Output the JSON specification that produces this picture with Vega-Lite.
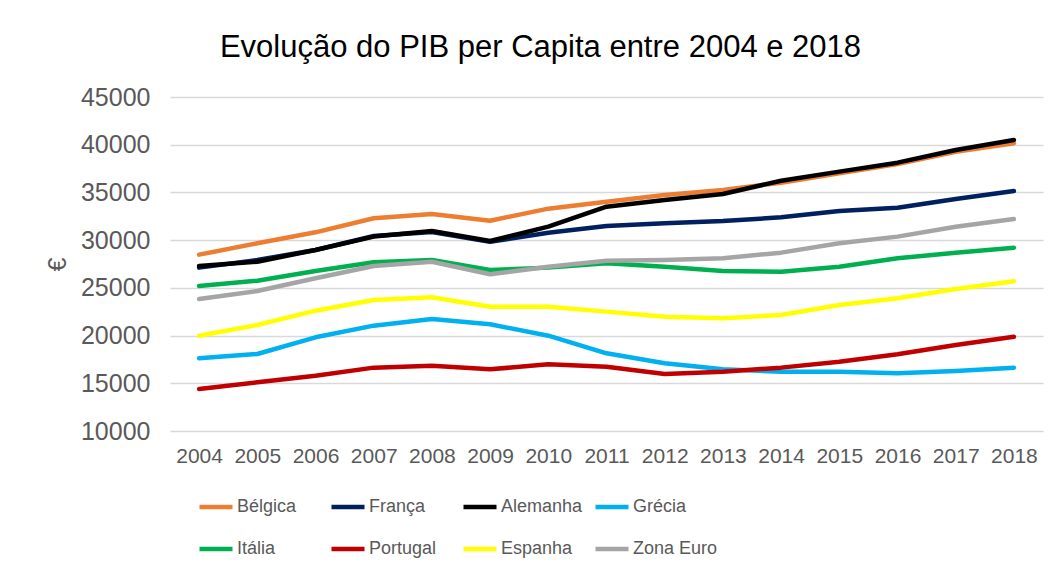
{
  "$schema": "https://vega.github.io/schema/vega-lite/v6.json",
  "width": 873,
  "height": 334,
  "autosize": {"type": "none"},
  "padding": {"left": 170, "top": 97, "right": 14, "bottom": 143},
  "background": "white",
  "title": {
    "text": "Evolução do PIB per Capita entre 2004 e 2018",
    "font": "Liberation Sans",
    "fontSize": 31,
    "fontWeight": "normal",
    "color": "#000000",
    "anchor": "middle",
    "frame": "group",
    "dx": -66,
    "baseline": "alphabetic",
    "offset": -3
  },
  "config": {
    "view": {"stroke": null},
    "font": "Liberation Sans"
  },
  "data": {
    "values": [
      {"ano": "2004", "pais": "Bélgica", "pib": 28480},
      {"ano": "2005", "pais": "Bélgica", "pib": 29670},
      {"ano": "2006", "pais": "Bélgica", "pib": 30820},
      {"ano": "2007", "pais": "Bélgica", "pib": 32290},
      {"ano": "2008", "pais": "Bélgica", "pib": 32740},
      {"ano": "2009", "pais": "Bélgica", "pib": 32040},
      {"ano": "2010", "pais": "Bélgica", "pib": 33300},
      {"ano": "2011", "pais": "Bélgica", "pib": 34030},
      {"ano": "2012", "pais": "Bélgica", "pib": 34730},
      {"ano": "2013", "pais": "Bélgica", "pib": 35260},
      {"ano": "2014", "pais": "Bélgica", "pib": 36020},
      {"ano": "2015", "pais": "Bélgica", "pib": 37000},
      {"ano": "2016", "pais": "Bélgica", "pib": 37980},
      {"ano": "2017", "pais": "Bélgica", "pib": 39270},
      {"ano": "2018", "pais": "Bélgica", "pib": 40150},
      {"ano": "2004", "pais": "França", "pib": 27120},
      {"ano": "2005", "pais": "França", "pib": 27920},
      {"ano": "2006", "pais": "França", "pib": 28970},
      {"ano": "2007", "pais": "França", "pib": 30440},
      {"ano": "2008", "pais": "França", "pib": 30860},
      {"ano": "2009", "pais": "França", "pib": 29840},
      {"ano": "2010", "pais": "França", "pib": 30780},
      {"ano": "2011", "pais": "França", "pib": 31480},
      {"ano": "2012", "pais": "França", "pib": 31770},
      {"ano": "2013", "pais": "França", "pib": 32010},
      {"ano": "2014", "pais": "França", "pib": 32390},
      {"ano": "2015", "pais": "França", "pib": 33060},
      {"ano": "2016", "pais": "França", "pib": 33400},
      {"ano": "2017", "pais": "França", "pib": 34310},
      {"ano": "2018", "pais": "França", "pib": 35150},
      {"ano": "2004", "pais": "Alemanha", "pib": 27290},
      {"ano": "2005", "pais": "Alemanha", "pib": 27740},
      {"ano": "2006", "pais": "Alemanha", "pib": 28970},
      {"ano": "2007", "pais": "Alemanha", "pib": 30370},
      {"ano": "2008", "pais": "Alemanha", "pib": 30960},
      {"ano": "2009", "pais": "Alemanha", "pib": 29910},
      {"ano": "2010", "pais": "Alemanha", "pib": 31410},
      {"ano": "2011", "pais": "Alemanha", "pib": 33510},
      {"ano": "2012", "pais": "Alemanha", "pib": 34210},
      {"ano": "2013", "pais": "Alemanha", "pib": 34840},
      {"ano": "2014", "pais": "Alemanha", "pib": 36230},
      {"ano": "2015", "pais": "Alemanha", "pib": 37180},
      {"ano": "2016", "pais": "Alemanha", "pib": 38120},
      {"ano": "2017", "pais": "Alemanha", "pib": 39450},
      {"ano": "2018", "pais": "Alemanha", "pib": 40500},
      {"ano": "2004", "pais": "Grécia", "pib": 17620},
      {"ano": "2005", "pais": "Grécia", "pib": 18070},
      {"ano": "2006", "pais": "Grécia", "pib": 19820},
      {"ano": "2007", "pais": "Grécia", "pib": 21040},
      {"ano": "2008", "pais": "Grécia", "pib": 21740},
      {"ano": "2009", "pais": "Grécia", "pib": 21180},
      {"ano": "2010", "pais": "Grécia", "pib": 19990},
      {"ano": "2011", "pais": "Grécia", "pib": 18140},
      {"ano": "2012", "pais": "Grécia", "pib": 17090},
      {"ano": "2013", "pais": "Grécia", "pib": 16460},
      {"ano": "2014", "pais": "Grécia", "pib": 16220},
      {"ano": "2015", "pais": "Grécia", "pib": 16220},
      {"ano": "2016", "pais": "Grécia", "pib": 16040},
      {"ano": "2017", "pais": "Grécia", "pib": 16300},
      {"ano": "2018", "pais": "Grécia", "pib": 16640},
      {"ano": "2004", "pais": "Itália", "pib": 25200},
      {"ano": "2005", "pais": "Itália", "pib": 25750},
      {"ano": "2006", "pais": "Itália", "pib": 26770},
      {"ano": "2007", "pais": "Itália", "pib": 27680},
      {"ano": "2008", "pais": "Itália", "pib": 27920},
      {"ano": "2009", "pais": "Itália", "pib": 26870},
      {"ano": "2010", "pais": "Itália", "pib": 27120},
      {"ano": "2011", "pais": "Itália", "pib": 27570},
      {"ano": "2012", "pais": "Itália", "pib": 27220},
      {"ano": "2013", "pais": "Itália", "pib": 26770},
      {"ano": "2014", "pais": "Itália", "pib": 26700},
      {"ano": "2015", "pais": "Itália", "pib": 27220},
      {"ano": "2016", "pais": "Itália", "pib": 28100},
      {"ano": "2017", "pais": "Itália", "pib": 28690},
      {"ano": "2018", "pais": "Itália", "pib": 29210},
      {"ano": "2004", "pais": "Portugal", "pib": 14400},
      {"ano": "2005", "pais": "Portugal", "pib": 15100},
      {"ano": "2006", "pais": "Portugal", "pib": 15800},
      {"ano": "2007", "pais": "Portugal", "pib": 16640},
      {"ano": "2008", "pais": "Portugal", "pib": 16850},
      {"ano": "2009", "pais": "Portugal", "pib": 16460},
      {"ano": "2010", "pais": "Portugal", "pib": 16990},
      {"ano": "2011", "pais": "Portugal", "pib": 16740},
      {"ano": "2012", "pais": "Portugal", "pib": 15970},
      {"ano": "2013", "pais": "Portugal", "pib": 16220},
      {"ano": "2014", "pais": "Portugal", "pib": 16640},
      {"ano": "2015", "pais": "Portugal", "pib": 17260},
      {"ano": "2016", "pais": "Portugal", "pib": 18040},
      {"ano": "2017", "pais": "Portugal", "pib": 19010},
      {"ano": "2018", "pais": "Portugal", "pib": 19880},
      {"ano": "2004", "pais": "Espanha", "pib": 19990},
      {"ano": "2005", "pais": "Espanha", "pib": 21110},
      {"ano": "2006", "pais": "Espanha", "pib": 22610},
      {"ano": "2007", "pais": "Espanha", "pib": 23730},
      {"ano": "2008", "pais": "Espanha", "pib": 24010},
      {"ano": "2009", "pais": "Espanha", "pib": 23030},
      {"ano": "2010", "pais": "Espanha", "pib": 23030},
      {"ano": "2011", "pais": "Espanha", "pib": 22510},
      {"ano": "2012", "pais": "Espanha", "pib": 21980},
      {"ano": "2013", "pais": "Espanha", "pib": 21810},
      {"ano": "2014", "pais": "Espanha", "pib": 22160},
      {"ano": "2015", "pais": "Espanha", "pib": 23200},
      {"ano": "2016", "pais": "Espanha", "pib": 23910},
      {"ano": "2017", "pais": "Espanha", "pib": 24880},
      {"ano": "2018", "pais": "Espanha", "pib": 25690},
      {"ano": "2004", "pais": "Zona Euro", "pib": 23830},
      {"ano": "2005", "pais": "Zona Euro", "pib": 24670},
      {"ano": "2006", "pais": "Zona Euro", "pib": 26000},
      {"ano": "2007", "pais": "Zona Euro", "pib": 27290},
      {"ano": "2008", "pais": "Zona Euro", "pib": 27740},
      {"ano": "2009", "pais": "Zona Euro", "pib": 26420},
      {"ano": "2010", "pais": "Zona Euro", "pib": 27220},
      {"ano": "2011", "pais": "Zona Euro", "pib": 27850},
      {"ano": "2012", "pais": "Zona Euro", "pib": 27920},
      {"ano": "2013", "pais": "Zona Euro", "pib": 28100},
      {"ano": "2014", "pais": "Zona Euro", "pib": 28690},
      {"ano": "2015", "pais": "Zona Euro", "pib": 29670},
      {"ano": "2016", "pais": "Zona Euro", "pib": 30370},
      {"ano": "2017", "pais": "Zona Euro", "pib": 31410},
      {"ano": "2018", "pais": "Zona Euro", "pib": 32220}
    ]
  },
  "mark": {"type": "line", "strokeWidth": 4.5, "strokeCap": "round", "strokeJoin": "round"},
  "encoding": {
    "x": {
      "field": "ano",
      "type": "ordinal",
      "axis": {
        "title": null,
        "labelAngle": 0,
        "labelFont": "Liberation Sans",
        "labelFontSize": 21,
        "labelColor": "#595959",
        "labelPadding": 14,
        "ticks": false,
        "domain": false,
        "grid": false
      }
    },
    "y": {
      "field": "pib",
      "type": "quantitative",
      "scale": {"domain": [10000, 45000], "nice": false, "zero": false},
      "axis": {
        "title": "€",
        "titleFont": "Liberation Sans",
        "titleFontSize": 25,
        "titleFontWeight": "normal",
        "titleColor": "#595959",
        "titlePadding": 10,
        "values": [10000, 15000, 20000, 25000, 30000, 35000, 40000, 45000],
        "format": "d",
        "labelFont": "Liberation Sans",
        "labelFontSize": 25,
        "labelColor": "#595959",
        "labelPadding": 20,
        "ticks": false,
        "domain": false,
        "gridColor": "#D9D9D9",
        "gridWidth": 1.5
      }
    },
    "color": {
      "field": "pais",
      "type": "nominal",
      "scale": {
        "domain": ["Bélgica", "França", "Alemanha", "Grécia", "Itália", "Portugal", "Espanha", "Zona Euro"],
        "range": ["#ED7D31", "#002060", "#000000", "#00B0F0", "#00B050", "#C00000", "#FFFF00", "#A5A5A5"]
      },
      "legend": {
        "title": null,
        "orient": "none",
        "legendX": 27,
        "legendY": 391,
        "direction": "horizontal",
        "columns": 4,
        "gridAlign": "all",
        "columnPadding": 0,
        "rowPadding": 14,
        "symbolType": "stroke",
        "symbolSize": 1089,
        "symbolStrokeWidth": 4.5,
        "labelFont": "Liberation Sans",
        "labelFontSize": 18,
        "labelColor": "#595959",
        "labelOffset": 2,
        "labelLimit": 200
      }
    }
  }
}
